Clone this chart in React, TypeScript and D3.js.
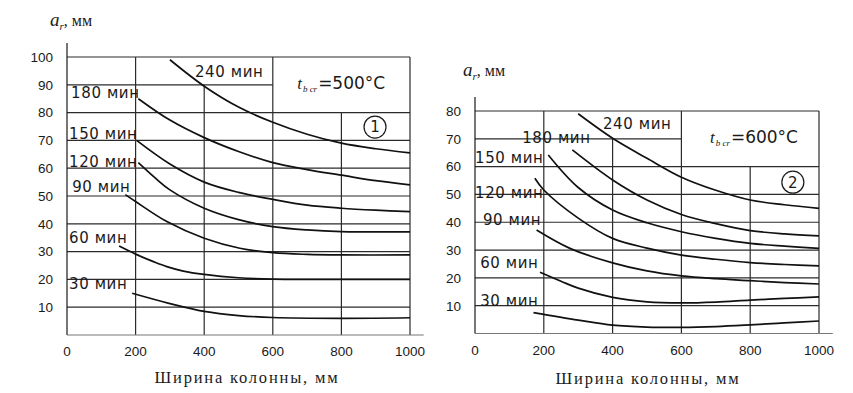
"use client"

import { useEffect, useRef } from "react"
import * as d3 from "d3"

type Pt = [number, number]

const widthTicks = [0, 200, 400, 600, 800, 1000]
const ticks500 = [10, 20, 30, 40, 50, 60, 70, 80, 90, 100]
const ticks600 = [10, 20, 30, 40, 50, 60, 70, 80]
const durations = ["30 мин", "60 мин", "90 мин", "120 мин", "150 мин", "180 мин", "240 мин"]

// t_bcr = 500°C : axis distance a (mm) against column width (mm)
const c500_30: Pt[] = [[190, 15], [300, 11.3], [400, 8.5], [500, 7], [600, 6.3], [800, 6], [1000, 6.2]]
const c500_60: Pt[] = [[152, 32], [200, 29.1], [252, 26.4], [291, 24.6], [339, 23], [400, 21.8], [500, 20.6], [600, 20.1], [800, 20], [1000, 20]]
const c500_90: Pt[] = [[170, 50.5], [200, 48], [291, 40.8], [400, 34.8], [504, 31.2], [600, 29.6], [700, 29], [800, 28.8], [1000, 28.8]]
const c500_120: Pt[] = [[208, 62], [257, 56.5], [300, 52.2], [400, 45.6], [500, 41.5], [600, 39], [700, 37.8], [800, 37.2], [1000, 37.1]]
const c500_150: Pt[] = [[203, 70], [300, 61.5], [400, 55], [500, 51.3], [600, 48.8], [700, 46.7], [800, 45.6], [900, 44.9], [1000, 44.4]]
const c500_180: Pt[] = [[208, 85], [300, 77.3], [400, 71], [500, 66], [600, 62], [700, 59.5], [800, 57.5], [900, 55.5], [1000, 54]]
const c500_240: Pt[] = [[300, 99], [400, 89.5], [500, 82], [600, 76.5], [700, 72.2], [800, 69], [900, 67], [1000, 65.5]]

// t_bcr = 600°C
const c600_30: Pt[] = [[170, 7.5], [300, 4.8], [400, 3], [500, 2.3], [600, 2.2], [700, 2.5], [800, 3.1], [900, 3.8], [1000, 4.5]]
const c600_60: Pt[] = [[189, 22], [250, 18.8], [300, 16.3], [400, 13], [500, 11.4], [600, 11], [700, 11.3], [800, 12], [900, 12.6], [1000, 13.2]]
const c600_90: Pt[] = [[179, 37.2], [276, 30.6], [400, 25.4], [500, 22.5], [600, 20.7], [700, 19.7], [800, 19], [900, 18.3], [1000, 17.8]]
const c600_120: Pt[] = [[174, 55.8], [200, 51.6], [300, 41.5], [400, 34.2], [500, 30.7], [600, 28.2], [700, 26.7], [800, 25.5], [900, 24.8], [1000, 24.3]]
const c600_150: Pt[] = [[213, 64.2], [300, 52.5], [400, 44.4], [500, 39.8], [600, 36.6], [700, 34.2], [800, 32.4], [900, 31.4], [1000, 30.6]]
const c600_180: Pt[] = [[283, 66], [400, 55.2], [500, 48], [600, 42.8], [700, 39.5], [800, 37], [900, 35.8], [1000, 35.1]]
const c600_240: Pt[] = [[300, 79], [400, 70.2], [500, 63], [600, 56.2], [700, 51.5], [800, 48], [900, 46.3], [1000, 45]]

const curves500 = [c500_30, c500_60, c500_90, c500_120, c500_150, c500_180, c500_240]
const curves600 = [c600_30, c600_60, c600_90, c600_120, c600_150, c600_180, c600_240]

const panels = [
  {
    curves: curves500,
    yTicks: ticks500,
    yMax: 100,
    xRange: [67, 410],
    yRange: [335, 57],
    axisTop: 105,
    // vertical grid lines: [width, top value]
    vGrid: [[200, 100], [400, 90], [600, 100], [800, 80], [1000, 100]] as Pt[],
    hShort: { 90: 600 } as Record<number, number>,
    labelAt: [[6, 16.5], [6, 33.1], [15, 51.4], [6, 60.4], [6, 70.5], [12, 85.3], [373, 92.8]] as Pt[],
    temp: "=500°C",
    tempAt: [671, 88.5] as Pt,
    mark: "1",
    markAt: [898, 74.8] as Pt,
    unitOffset: [-17, -31],
    titleX: 247,
    titleY: 383,
  },
  {
    curves: curves600,
    yTicks: ticks600,
    yMax: 80,
    xRange: [475, 819],
    yRange: [333.5, 111],
    axisTop: 85,
    vGrid: [[200, 80], [400, 70], [600, 80], [800, 60], [1000, 80]] as Pt[],
    hShort: { 70: 600 } as Record<number, number>,
    labelAt: [[15, 9.9], [15, 23.6], [23, 39], [0, 48.7], [0, 61.3], [137, 68.5], [372, 73.6]] as Pt[],
    temp: "=600°C",
    tempAt: [683, 68.4] as Pt,
    mark: "2",
    markAt: [924, 54.4] as Pt,
    unitOffset: [-12, -35],
    titleX: 648,
    titleY: 384,
  },
]

const ink = "#1a1a1a"
const sans = "'DejaVu Sans', Verdana, sans-serif"
const tickFont = "'Liberation Sans', Arial, sans-serif"
const serif = "'Liberation Serif', 'Times New Roman', serif"

function drawPanel(svg: any, p: (typeof panels)[number]) {
  const x = d3.scaleLinear().domain([0, 1000]).range(p.xRange)
  const y = d3.scaleLinear().domain([0, p.yMax]).range(p.yRange)
  const g = svg.append("g")

  // Grid
  g.selectAll(".hgrid")
    .data(p.yTicks)
    .enter()
    .append("line")
    .attr("x1", x(0))
    .attr("x2", (d: number) => x(p.hShort[d] ?? 1000))
    .attr("y1", (d: number) => y(d))
    .attr("y2", (d: number) => y(d))
    .attr("stroke", "#2b2b2b")
    .attr("stroke-width", 1.2)

  g.selectAll(".vgrid")
    .data(p.vGrid)
    .enter()
    .append("line")
    .attr("x1", (d: Pt) => x(d[0]))
    .attr("x2", (d: Pt) => x(d[0]))
    .attr("y1", y(0))
    .attr("y2", (d: Pt) => y(d[1]))
    .attr("stroke", "#2b2b2b")
    .attr("stroke-width", 1.2)

  // Axes
  g.append("line")
    .attr("x1", x(0)).attr("x2", x(0))
    .attr("y1", y(0)).attr("y2", y(p.axisTop))
    .attr("stroke", ink).attr("stroke-width", 1.2)
  g.append("line")
    .attr("x1", x(0)).attr("x2", x(1040))
    .attr("y1", y(0)).attr("y2", y(0))
    .attr("stroke", "#777").attr("stroke-width", 1.2)

  // Tick labels
  g.selectAll(".ytick")
    .data(p.yTicks)
    .enter()
    .append("text")
    .attr("x", x(0) - 14)
    .attr("y", (d: number) => y(d))
    .attr("dy", "0.36em")
    .attr("text-anchor", "end")
    .attr("font-family", tickFont)
    .attr("font-size", 13.5)
    .attr("fill", ink)
    .text((d: number) => d)

  g.selectAll(".xtick")
    .data(widthTicks)
    .enter()
    .append("text")
    .attr("x", (d: number) => x(d))
    .attr("y", y(0) + 21)
    .attr("text-anchor", "middle")
    .attr("font-family", tickFont)
    .attr("font-size", 13.5)
    .attr("fill", ink)
    .text((d: number) => d)

  // Curves
  const line = d3
    .line<Pt>()
    .x((d) => x(d[0]))
    .y((d) => y(d[1]))
    .curve(d3.curveCatmullRom.alpha(0.5))

  g.selectAll(".curve")
    .data(p.curves)
    .enter()
    .append("path")
    .attr("d", line)
    .attr("fill", "none")
    .attr("stroke", "#111")
    .attr("stroke-width", 1.7)

  // Curve labels
  g.selectAll(".clabel")
    .data(durations)
    .enter()
    .append("text")
    .attr("x", (_: string, i: number) => x(p.labelAt[i][0]))
    .attr("y", (_: string, i: number) => y(p.labelAt[i][1]))
    .attr("font-family", sans)
    .attr("font-size", 15)
    .attr("letter-spacing", 0.6)
    .attr("fill", ink)
    .text((d: string) => d)

  // Critical temperature
  const t = g.append("text")
    .attr("x", x(p.tempAt[0]))
    .attr("y", y(p.tempAt[1]))
    .attr("fill", ink)
  t.append("tspan").attr("font-family", serif).attr("font-style", "italic").attr("font-size", 17).text("t")
  t.append("tspan").attr("font-family", serif).attr("font-style", "italic").attr("font-size", 9)
    .attr("dx", 1).attr("dy", 3).text("b cr")
  t.append("tspan").attr("font-family", sans).attr("font-size", 17).attr("dx", 1).attr("dy", -3).text(p.temp)

  // Circled panel number
  g.append("circle")
    .attr("cx", x(p.markAt[0])).attr("cy", y(p.markAt[1])).attr("r", 11)
    .attr("fill", "none").attr("stroke", ink).attr("stroke-width", 1.2)
  g.append("text")
    .attr("x", x(p.markAt[0])).attr("y", y(p.markAt[1]))
    .attr("dy", "0.36em").attr("text-anchor", "middle")
    .attr("font-family", sans).attr("font-size", 15).attr("fill", ink)
    .text(p.mark)

  // Y axis unit
  const u = g.append("text")
    .attr("x", x(0) + p.unitOffset[0])
    .attr("y", p.yRange[1] + p.unitOffset[1])
    .attr("fill", ink)
    .attr("font-family", serif)
  u.append("tspan").attr("font-style", "italic").attr("font-size", 19).text("a")
  u.append("tspan").attr("font-style", "italic").attr("font-size", 11).attr("dy", 4).text("r")
  u.append("tspan").attr("font-size", 16).attr("dy", -4).text(",  мм")

  // X axis title
  g.append("text")
    .attr("x", p.titleX)
    .attr("y", p.titleY)
    .attr("text-anchor", "middle")
    .attr("font-family", serif)
    .attr("font-size", 16.5)
    .attr("letter-spacing", 1.8)
    .attr("fill", ink)
    .text("Ширина колонны, мм")
}

export default function App() {
  const svgRef = useRef<SVGSVGElement>(null)

  useEffect(() => {
    if (!svgRef.current) return
    const svg = d3.select(svgRef.current)
    svg.selectAll("*").remove()
    panels.forEach((p) => drawPanel(svg, p))
  }, [])

  return (
    <svg
      ref={svgRef}
      width={853}
      height={393}
      style={{ position: "absolute", left: 0, top: 0, background: "#fff" }}
    />
  )
}
